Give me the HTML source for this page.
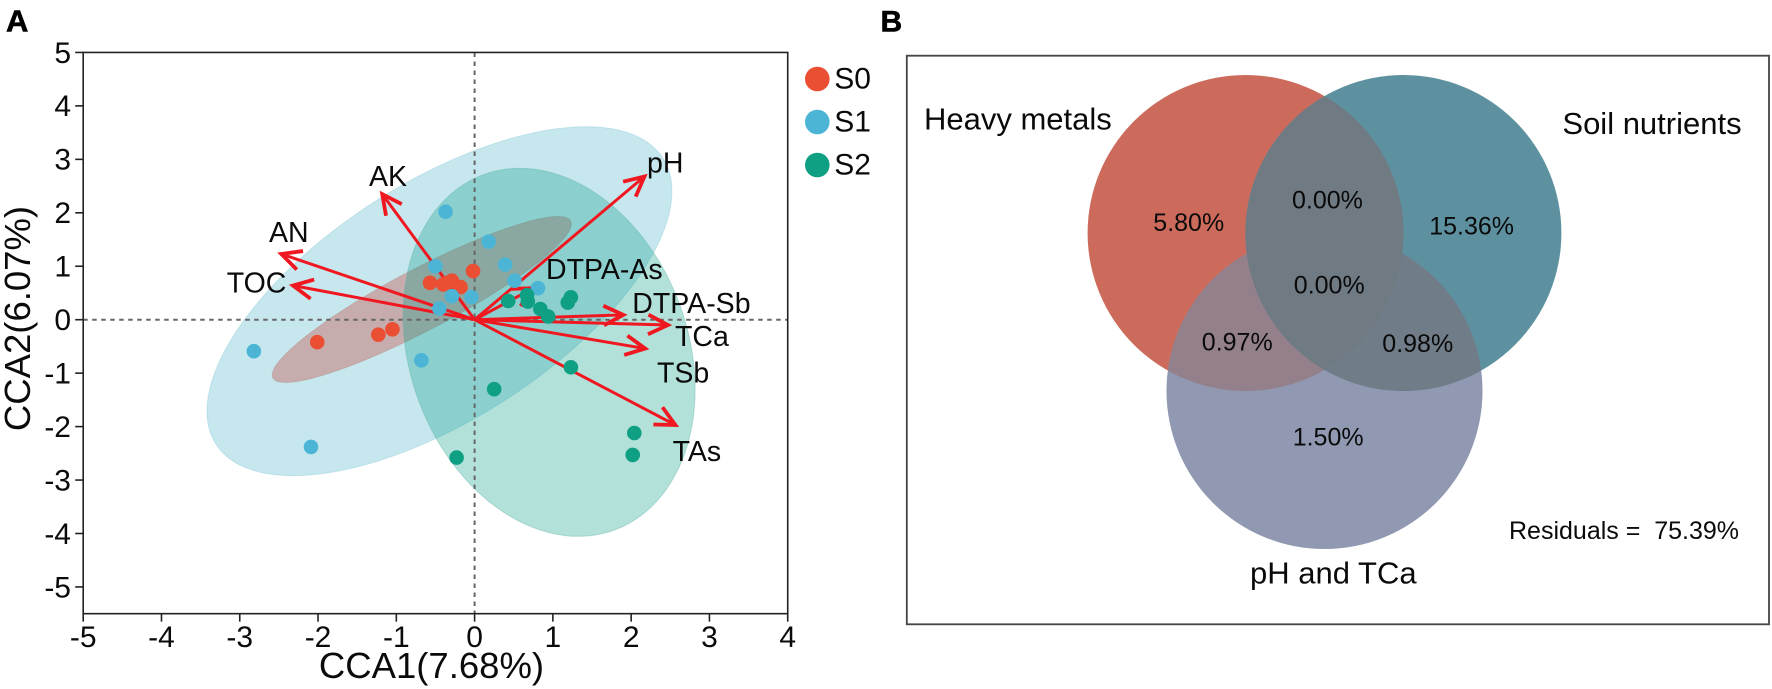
<!DOCTYPE html>
<html lang="en">
<head>
<meta charset="utf-8">
<title>CCA ordination and variance partitioning</title>
<style>
html,body{margin:0;padding:0;background:#fff;}
svg{display:block;font-family:"Liberation Sans",Arial,sans-serif;fill:#0a0a0a;}
</style>
</head>
<body>
<svg id="fig" width="1772" height="689" viewBox="0 0 1772 689" xmlns="http://www.w3.org/2000/svg">
  <rect width="1772" height="689" fill="#fff"/>
  <defs>
    <clipPath id="clip-a"><circle cx="1245.6" cy="233" r="158"/></clipPath>
    <clipPath id="clip-b"><circle cx="1403.4" cy="233" r="158"/></clipPath>
  </defs>
  <text x="6" y="31.7" font-size="31" font-weight="bold" fill="#000" stroke="#000" stroke-width="0.6">A</text>
  <text x="880.5" y="31.7" font-size="30" font-weight="bold" fill="#000" stroke="#000" stroke-width="0.6">B</text>
  <g id="plot"></g>
  <g id="legend"></g>

  <g>
    <rect x="906.8" y="55.7" width="862.2" height="568.6" fill="#fff" stroke="#444" stroke-width="1.8"/>
    <circle cx="1245.6" cy="233" r="158" fill="#cc6b5c"/>
    <circle cx="1324.5" cy="391" r="158" fill="#9099b1"/>
    <circle cx="1403.4" cy="233" r="158" fill="#5e91a0"/>
    <g clip-path="url(#clip-a)"><circle cx="1324.5" cy="391" r="158" fill="#93808a"/></g>
    <g clip-path="url(#clip-b)"><circle cx="1324.5" cy="391" r="158" fill="#707c88"/></g>
    <g clip-path="url(#clip-a)"><circle cx="1403.4" cy="233" r="158" fill="#707a83"/></g>
    <g font-size="31" fill="#0a0a0a">
      <text x="924" y="129.3">Heavy metals</text>
      <text x="1562.4" y="134">Soil nutrients</text>
      <text x="1250" y="583.3">pH and TCa</text>
    </g>
    <g font-size="25" fill="#0a0a0a">
      <text x="1153.3" y="231">5.80%</text>
      <text x="1292" y="208.3">0.00%</text>
      <text x="1429.2" y="234.3">15.36%</text>
      <text x="1293.8" y="293.3">0.00%</text>
      <text x="1201.8" y="350.7">0.97%</text>
      <text x="1382.3" y="352">0.98%</text>
      <text x="1292.7" y="445.3">1.50%</text>
      <text x="1509" y="539" xml:space="preserve" style="white-space:pre">Residuals =  75.39%</text>
    </g>
  </g>
</svg>
<script>
// Axis tick labels
const xTicks = [-5, -4, -3, -2, -1, 0, 1, 2, 3, 4];
const yTicks = [-5, -4, -3, -2, -1, 0, 1, 2, 3, 4, 5];

// Sample scores [CCA1, CCA2]
const s0Points = [[-2.01,-0.42],[-1.23,-0.28],[-1.05,-0.18],[-0.57,0.69],[-0.40,0.66],[-0.29,0.73],[-0.35,0.69],[-0.18,0.61],[-0.02,0.91]];
const s1Points = [[-2.82,-0.59],[-2.09,-2.38],[-0.68,-0.76],[-0.37,2.02],[0.18,1.46],[0.39,1.03],[-0.50,1.00],[-0.29,0.44],[-0.04,0.42],[-0.45,0.21],[0.51,0.73],[0.81,0.59]];
const s2Points = [[0.43,0.35],[0.67,0.46],[0.68,0.34],[0.84,0.20],[0.94,0.06],[1.23,0.42],[1.19,0.32],[1.23,-0.89],[0.25,-1.30],[-0.23,-2.58],[2.04,-2.12],[2.02,-2.53]];

// Confidence ellipses: [centre x, half-width, centre y, half-height, correlation]
const s1Ellipse = [-0.449, 2.97, 0.346, 3.265, 0.63];
const s2Ellipse = [0.951, 1.866, -0.61, 3.443, -0.2];
const s0Ellipse = [-0.675, 1.911, 0.378, 1.553, 0.91];

// Environmental vectors
const vectorNames = ["AK","AN","TOC","pH","DTPA-As","DTPA-Sb","TCa","TSb","TAs"];
const vectorX = [-1.18,-2.47,-2.32,2.17,0.75,1.90,2.47,2.18,2.565];
const vectorY = [2.35,1.23,0.64,2.68,0.59,0.09,-0.10,-0.54,-1.97];

const legendNames = ["S0","S1","S2"];

const NS = "http://www.w3.org/2000/svg";
const X = v => 474.6 + 78.28 * v;
const Y = v => 319.7 - 53.45 * v;
const plot = document.getElementById("plot");
const legend = document.getElementById("legend");

function make(tag, attrs, parent, text) {
  const el = document.createElementNS(NS, tag);
  for (const k in attrs) el.setAttribute(k, attrs[k]);
  if (text !== undefined) el.textContent = text;
  parent.appendChild(el);
  return el;
}

function ellipsePath(e) {
  const phi = Math.acos(e[4]);
  const pts = [];
  for (let i = 0; i < 120; i++) {
    const t = i / 120 * Math.PI * 2;
    pts.push(X(e[0] + e[1] * Math.cos(t)).toFixed(1) + "," + Y(e[2] + e[3] * Math.cos(t - phi)).toFixed(1));
  }
  return "M" + pts.join("L") + "Z";
}

const e1 = make("path", {d: ellipsePath(s1Ellipse), fill: "#44afc6", "fill-opacity": 0.3, stroke: "#7fc4d4", "stroke-opacity": 0.35, "stroke-width": 1}, plot);


const e0 = make("path", {d: ellipsePath(s0Ellipse), fill: "#c8241a", "fill-opacity": 0.3, stroke: "#b08078", "stroke-opacity": 0.35, "stroke-width": 1}, plot);


const e2 = make("path", {d: ellipsePath(s2Ellipse), fill: "#009b84", "fill-opacity": 0.3, stroke: "#5fb3a6", "stroke-opacity": 0.4, "stroke-width": 1}, plot);



const hz = make("line", {x1: X(-5), x2: X(4), y1: Y(0), y2: Y(0), stroke: "#666", "stroke-width": 2, "stroke-dasharray": "4.5 4.5"}, plot);


const vt = make("line", {x1: X(0), x2: X(0), y1: Y(5), y2: Y(-5.5), stroke: "#666", "stroke-width": 2, "stroke-dasharray": "4.5 4.5"}, plot);



const frame = make("rect", {x: X(-5), y: Y(5), width: X(4) - X(-5), height: Y(-5.5) - Y(5), fill: "none", stroke: "#222", "stroke-width": 1.6}, plot);



xTicks.forEach(v => {
  const t = make("line", {x1: X(v), x2: X(v), y1: Y(-5.5), y2: Y(-5.5) + 8, stroke: "#222", "stroke-width": 1.6}, plot);
  
  
  const l = make("text", {x: X(v), y: 647, "font-size": 30, "text-anchor": "middle", fill: "#0a0a0a"}, plot, String(v));
  
  
});
yTicks.forEach(v => {
  const t = make("line", {x1: X(-5) - 8, x2: X(-5), y1: Y(v), y2: Y(v), stroke: "#222", "stroke-width": 1.6}, plot);
  
  
  const l = make("text", {x: 71, y: Y(v) + 10.3, "font-size": 30, "text-anchor": "end", fill: "#0a0a0a"}, plot, String(v));
  
  
});

const xTitle = make("text", {x: 431.5, y: 678, "font-size": 36.5, "text-anchor": "middle", fill: "#0a0a0a"}, plot, "CCA1(7.68%)");


const yTitle = make("text", {transform: "translate(30 318.5) rotate(-90)", "font-size": 36.5, "text-anchor": "middle", fill: "#0a0a0a"}, plot, "CCA2(6.07%)");



const labelX = [369, 269, 226.7, 647, 546, 632.3, 675, 657, 672.6];
const labelY = [186, 242, 292.7, 172.7, 279, 313, 346, 382.7, 461];
const ox = X(0), oy = Y(0);
vectorNames.forEach((name, i) => {
  const tx = X(vectorX[i]), ty = Y(vectorY[i]);
  const a = Math.atan2(oy - ty, ox - tx);
  const len = 22, spread = 0.46;
  const b1x = tx + len * Math.cos(a + spread), b1y = ty + len * Math.sin(a + spread);
  const b2x = tx + len * Math.cos(a - spread), b2y = ty + len * Math.sin(a - spread);
  const g = make("g", {}, plot);
  
  
  make("line", {x1: ox, y1: oy, x2: tx, y2: ty, stroke: "#f01820", "stroke-width": 3}, g);
  make("path", {d: `M${b1x} ${b1y}L${tx} ${ty}L${b2x} ${b2y}`, fill: "none", stroke: "#f01820", "stroke-width": 3.8}, g);
  const l = make("text", {x: labelX[i], y: labelY[i], "font-size": 28.5, fill: "#0a0a0a"}, plot, name);
  
  
});

function drawDots(points, color, name) {
  points.forEach(p => {
    const c = make("circle", {cx: X(p[0]), cy: Y(p[1]), r: 7.3, fill: color}, plot);
    
    
  });
}
drawDots(s0Points, "#ea4f33", "point-s0");
drawDots(s1Points, "#4cb5d6", "point-s1");
drawDots(s2Points, "#0f9f83", "point-s2");

const legendColors = ["#ea4f33", "#4cb5d6", "#0f9f83"];
legendNames.forEach((name, i) => {
  const c = make("circle", {cx: 817.3, cy: 79 + 43 * i, r: 12.3, fill: legendColors[i]}, legend);
  
  
  const l = make("text", {x: 834.3, y: 88.3 + 43 * i, "font-size": 30, fill: "#0a0a0a"}, legend, name);
  
  
});
</script>
</body>
</html>
